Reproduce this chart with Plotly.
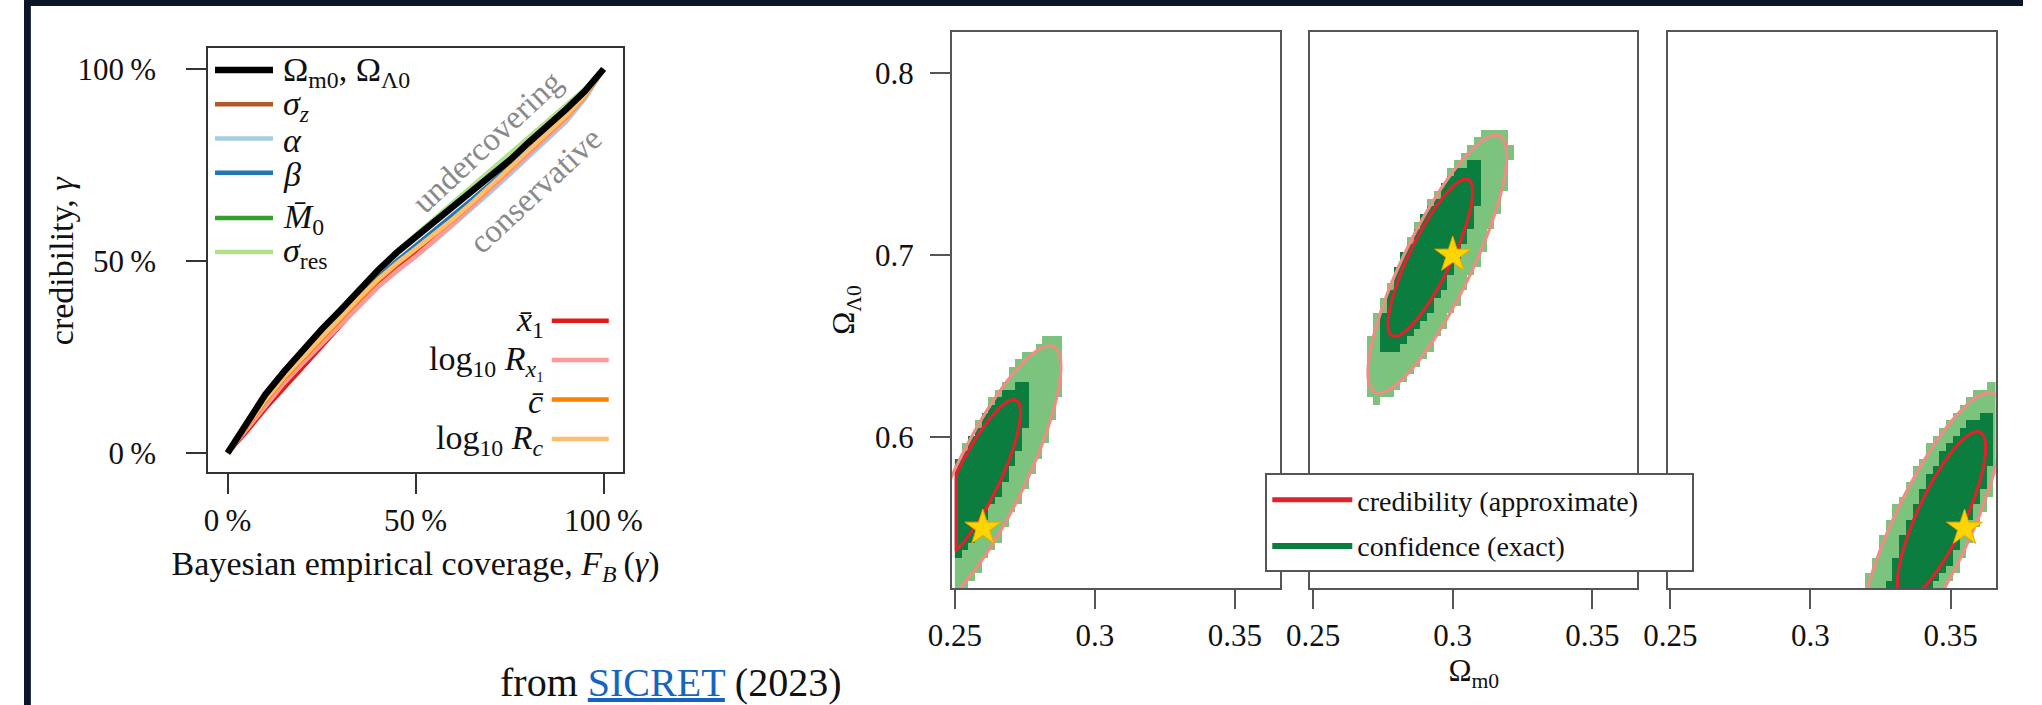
import numpy as np
import plotly.graph_objects as go

W, H = 2042, 705
FONT = "Liberation Serif"


def fx(p):
    return p / W


def fy(p):
    return 1 - p / H


# ---------------- left panel: coverage curves ----------------
coverage = [0.0, 0.05, 0.10, 0.15, 0.20, 0.25, 0.30, 0.35, 0.40, 0.45, 0.50,
            0.55, 0.60, 0.65, 0.70, 0.75, 0.80, 0.85, 0.90, 0.95, 1.00]

cred_omega = [0.0, 0.080, 0.152, 0.212, 0.268, 0.322, 0.372, 0.425, 0.476, 0.522, 0.562,
              0.600, 0.640, 0.680, 0.720, 0.762, 0.808, 0.850, 0.895, 0.942, 1.0]
cred_sigma_z = [0.0, 0.070, 0.135, 0.196, 0.248, 0.298, 0.348, 0.398, 0.447, 0.490, 0.528,
                0.568, 0.610, 0.654, 0.698, 0.744, 0.788, 0.833, 0.878, 0.934, 1.0]
cred_alpha = [0.0, 0.064, 0.128, 0.186, 0.236, 0.286, 0.336, 0.386, 0.434, 0.474, 0.512,
              0.552, 0.594, 0.636, 0.680, 0.725, 0.770, 0.815, 0.862, 0.922, 1.0]
cred_beta = [0.0, 0.072, 0.140, 0.200, 0.252, 0.305, 0.355, 0.408, 0.458, 0.500, 0.540,
             0.578, 0.618, 0.660, 0.702, 0.746, 0.790, 0.836, 0.880, 0.935, 1.0]
cred_M0 = [0.0, 0.066, 0.128, 0.186, 0.236, 0.284, 0.334, 0.386, 0.436, 0.480, 0.520,
           0.560, 0.600, 0.644, 0.690, 0.736, 0.782, 0.828, 0.874, 0.930, 1.0]
cred_sigma_res = [0.0, 0.076, 0.146, 0.206, 0.262, 0.316, 0.368, 0.422, 0.476, 0.524, 0.568,
                  0.610, 0.652, 0.694, 0.736, 0.778, 0.822, 0.865, 0.905, 0.948, 1.0]
cred_x1 = [0.0, 0.055, 0.115, 0.170, 0.224, 0.278, 0.332, 0.386, 0.438, 0.480, 0.518,
           0.558, 0.600, 0.644, 0.690, 0.736, 0.782, 0.830, 0.876, 0.932, 1.0]
cred_logRx1 = [0.0, 0.062, 0.124, 0.182, 0.234, 0.284, 0.334, 0.384, 0.432, 0.474, 0.512,
               0.554, 0.598, 0.642, 0.686, 0.732, 0.778, 0.824, 0.870, 0.928, 1.0]
cred_c = [0.0, 0.068, 0.134, 0.194, 0.246, 0.298, 0.350, 0.400, 0.450, 0.492, 0.530,
          0.568, 0.608, 0.650, 0.694, 0.740, 0.786, 0.830, 0.876, 0.930, 1.0]
cred_logRc = [0.0, 0.070, 0.138, 0.198, 0.250, 0.302, 0.354, 0.404, 0.452, 0.494, 0.532,
              0.570, 0.610, 0.652, 0.696, 0.742, 0.788, 0.832, 0.878, 0.932, 1.0]

pct_ticks = [0.0, 0.5, 1.0]
pct_labels = ["0\u2009%", "50\u2009%", "100\u2009%"]

# ---------------- right panels: Omega_m0 / Omega_L0 regions ----------------
om_ticks = [0.25, 0.3, 0.35]
om_labels = ["0.25", "0.3", "0.35"]
ol_ticks = [0.6, 0.7, 0.8]
ol_labels = ["0.6", "0.7", "0.8"]

truth_om = [0.26, 0.30, 0.355]
truth_ol = [0.55, 0.70, 0.55]
inner_om = [0.258, 0.292, 0.3468]      # centre of 68 % regions
inner_ol = [0.5765, 0.6985, 0.557]
outer_om = [0.2625, 0.2945, 0.343]     # centre of 95 % regions
outer_ol = [0.578, 0.695, 0.549]
sig_om = [0.0102, 0.0100, 0.0104]
sig_ol = [0.0290, 0.0285, 0.0303]
rho = [0.84, 0.84, 0.81]
cred_levels = [2.30, 6.18]            # delta chi^2 of 68 % / 95 %
conf_levels = [3.4, 7.0]
prior_om_min = 0.25
cell_om, cell_ol = 0.0024, 0.0042

DARK = "#0b7d3e"
LIGHT = "#7cc47e"
RED = "#e0222c"
PINK = "#ef8c84"

colors = {
    "omega": "#000000", "sz": "#b15928", "alpha": "#a6cee3", "beta": "#1f78b4",
    "M0": "#33a02c", "sres": "#b2df8a", "x1": "#e31a1c", "lRx1": "#fb9a99",
    "c": "#ff7f00", "lRc": "#fdbf6f",
}

fig = go.Figure()

# (key, values, label, legend rank, legend group)
series1 = [
    ("sz", cred_sigma_z, "<i>σ<sub>z</sub></i>", 2, "g1"),
    ("alpha", cred_alpha, "<i>α</i>", 3, "g1"),
    ("beta", cred_beta, "<i>β</i>", 4, "g1"),
    ("M0", cred_M0, "<i>M̄</i><sub>0</sub>", 5, "g2"),
    ("sres", cred_sigma_res, "<i>σ</i><sub>res</sub>", 6, "g2"),
]
series2 = [
    ("x1", cred_x1, "<i>x̄</i><sub>1</sub>", 7),
    ("lRx1", cred_logRx1, "log<sub>10</sub> <i>R</i><sub><i>x</i>₁</sub>", 8),
    ("c", cred_c, "<i>c̄</i>", 9),
    ("lRc", cred_logRc, "log<sub>10</sub> <i>R<sub>c</sub></i>", 10),
]
for key, vals, name, rank, grp in series1:
    fig.add_trace(go.Scatter(x=coverage, y=vals, mode="lines", name="\u00a0",
                             line=dict(color=colors[key], width=4.5), legendgroup=grp,
                             legend="legend", legendrank=rank, hoverinfo="skip"))
for key, vals, name, rank in series2:
    fig.add_trace(go.Scatter(x=coverage, y=vals, mode="lines", name="\u00a0",
                             line=dict(color=colors[key], width=4.5),
                             legend="legend2", legendrank=rank, hoverinfo="skip"))
fig.add_trace(go.Scatter(x=coverage, y=cred_omega, mode="lines", name="\u00a0",
                         line=dict(color=colors["omega"], width=6.5), legendgroup="g1",
                         legend="legend", legendrank=1, hoverinfo="skip"))
legend1_labels = ["Ω<sub>m0</sub>, Ω<sub>Λ0</sub>"] + [s[2] for s in series1]
legend2_labels = [s[2] for s in series2]

# ---------------- right panels ----------------
def chi2(xg, yg, cx, cy, sx, sy, r):
    dx = (xg - cx) / sx
    dy = (yg - cy) / sy
    return (dx * dx - 2 * r * dx * dy + dy * dy) / (1 - r * r)


xf = np.linspace(0.240, 0.372, 265)
yf = np.linspace(0.500, 0.830, 331)
XF, YF = np.meshgrid(xf, yf)
xe = np.arange(prior_om_min, 0.372, cell_om)
ye = np.arange(0.500, 0.830, cell_ol)
xc = xe + cell_om / 2
yc = ye + cell_ol / 2
XC, YC = np.meshgrid(xc, yc)

for i in range(3):
    xa = "x" + str(i + 2)
    ya = "y" + str(i + 2)
    c_in = chi2(XC, YC, inner_om[i], inner_ol[i], sig_om[i], sig_ol[i], rho[i])
    c_out = chi2(XC, YC, outer_om[i], outer_ol[i], sig_om[i], sig_ol[i], rho[i])
    zc = np.where(c_in <= conf_levels[0], 2.0,
                  np.where(c_out <= conf_levels[1], 1.0, np.nan))
    fig.add_trace(go.Heatmap(x=xc, y=yc, z=zc, zmin=1, zmax=2, showscale=False,
                             colorscale=[[0, LIGHT], [0.5, LIGHT], [0.5, DARK], [1, DARK]],
                             hoverinfo="skip", xaxis=xa, yaxis=ya, showlegend=False))
    f_out = chi2(XF, YF, outer_om[i], outer_ol[i], sig_om[i], sig_ol[i], rho[i])
    f_in = chi2(XF, YF, inner_om[i], inner_ol[i], sig_om[i], sig_ol[i], rho[i])
    f_in = np.where(XF < prior_om_min + 0.0004, 99.0, f_in)
    for zz, lev, col in [(f_out, cred_levels[1], PINK), (f_in, cred_levels[0], RED)]:
        fig.add_trace(go.Contour(x=xf, y=yf, z=zz, autocontour=False,
                                 contours=dict(coloring="lines", start=lev, end=lev, size=1,
                                               showlabels=False),
                                 colorscale=[[0, col], [1, col]],
                                 line=dict(width=3.2, smoothing=1),
                                 showscale=False, hoverinfo="skip",
                                 xaxis=xa, yaxis=ya, showlegend=False))
    fig.add_trace(go.Scatter(x=[truth_om[i]], y=[truth_ol[i]], mode="markers",
                             marker=dict(symbol="star", size=27, color="#ffd500",
                                         line=dict(color="#f0a800", width=1)),
                             xaxis=xa, yaxis=ya, showlegend=False, hoverinfo="skip"))

fig.add_trace(go.Scatter(x=[None], y=[None], mode="lines",
                         name="credibility (approximate)" + "\u00a0" * 7,
                         line=dict(color=RED, width=5), legend="legend3",
                         legendgroup="a", xaxis="x2", yaxis="y2"))
fig.add_trace(go.Scatter(x=[None], y=[None], mode="lines", name="confidence (exact)",
                         fill="toself", fillcolor=DARK, line=dict(color=DARK, width=0),
                         legend="legend3", legendgroup="b", xaxis="x2", yaxis="y2"))

# ---------------- axes ----------------
tick_font = dict(family=FONT, size=31, color="#111")
fig.update_layout(
    xaxis=dict(domain=[fx(188), fx(612)], range=[-0.052, 1.052], tickvals=pct_ticks,
               ticktext=pct_labels, ticks="outside", ticklen=20, tickwidth=1.5,
               tickcolor="#333", showline=True, mirror=True, linecolor="#333", linewidth=1.5,
               showgrid=False, zeroline=False, tickfont=tick_font, ticklabelstandoff=0,
               title=dict(text="Bayesian empirical coverage, <i>F<sub>B</sub></i>\u2009(<i>γ</i>)",
                          font=dict(family=FONT, size=34, color="#111"), standoff=14)),
    yaxis=dict(domain=[fy(472), fy(48)], range=[-0.0495, 1.0547], tickvals=pct_ticks,
               ticktext=pct_labels, ticks="outside", ticklen=20, tickwidth=1.5,
               tickcolor="#333", showline=True, mirror=True, linecolor="#333", linewidth=1.5,
               showgrid=False, zeroline=False, tickfont=tick_font, ticklabelstandoff=24),
)
for i, (a, b) in enumerate([(948, 1283), (1314, 1648), (1679, 2014)]):
    n = str(i + 2)
    xdict = dict(
        domain=[fx(a), fx(b)], range=[0.249, 0.3661], anchor="y" + n,
        tickvals=om_ticks, ticktext=om_labels, ticks="outside", ticklen=19, tickwidth=2,
        tickcolor="#555", showline=True, mirror=True, linecolor="#555", linewidth=2,
        showgrid=False, zeroline=False, tickfont=tick_font, ticklabelstandoff=0)
    if i == 1:
        xdict["title"] = dict(text="Ω<sub>m0</sub>",
                              font=dict(family=FONT, size=31, color="#111"), standoff=6)
    ydict = dict(
        domain=[fy(588), fy(32)], range=[0.51703, 0.82253], anchor="x" + n,
        tickvals=ol_ticks, ticktext=ol_labels, ticks="outside" if i == 0 else "",
        showticklabels=(i == 0), ticklen=20, tickwidth=2, tickcolor="#555",
        showline=True, mirror=True, linecolor="#555", linewidth=2,
        showgrid=False, zeroline=False, tickfont=tick_font, ticklabelstandoff=10)
    if i == 0:
        ydict["title"] = dict(text="Ω<sub>Λ0</sub>",
                              font=dict(family=FONT, size=31, color="#111"), standoff=11)
    fig.layout["xaxis" + n] = xdict
    fig.layout["yaxis" + n] = ydict

# ---------------- legends ----------------
fig.update_layout(
    legend=dict(x=fx(190), y=fy(48), xanchor="left", yanchor="top",
                bgcolor="rgba(0,0,0,0)", borderwidth=0, itemwidth=58,
                font=dict(family=FONT, size=24, color="#111"), tracegroupgap=11),
    legend2=dict(x=fx(534), y=fy(296), xanchor="left", yanchor="top",
                 bgcolor="rgba(0,0,0,0)", borderwidth=0, itemwidth=57,
                 font=dict(family=FONT, size=28, color="#111"), tracegroupgap=0),
    legend3=dict(x=fx(1268), y=fy(473), xanchor="left", yanchor="top",
                 bgcolor="white", bordercolor="#555", borderwidth=2, itemwidth=80,
                 font=dict(family=FONT, size=28, color="#111"), tracegroupgap=6),
)

annotations = []
for lab, row in zip(legend1_labels, [72, 106, 140, 174, 219, 253]):
    annotations.append(dict(text=lab, x=fx(263), y=fy(row), xref="paper", yref="paper",
                            xanchor="left", yanchor="middle", showarrow=False,
                            font=dict(family=FONT, size=34, color="#111")))
for lab, row in zip(legend2_labels, [322, 361, 401, 440]):
    annotations.append(dict(text=lab, x=fx(533), y=fy(row), xref="paper", yref="paper",
                            xanchor="right", yanchor="middle", showarrow=False,
                            font=dict(family=FONT, size=34, color="#111")))
annotations += [
    dict(text="credibility, <i>γ</i>", x=fx(38), y=fy(260), xref="paper", yref="paper",
         textangle=-90, showarrow=False, xanchor="center", yanchor="middle",
         font=dict(family=FONT, size=34, color="#111")),
    dict(text="undercovering", x=0.69, y=0.81, xref="x", yref="y", showarrow=False,
         textangle=-43, font=dict(family=FONT, size=33, color="#8a8a8a")),
    dict(text="conservative", x=0.82, y=0.685, xref="x", yref="y", showarrow=False,
         textangle=-43, font=dict(family=FONT, size=33, color="#8a8a8a")),
    dict(text="from <span style='color:#1565c0;text-decoration:underline'>SICRET</span> (2023)",
         x=fx(660), y=fy(682), xref="paper", yref="paper", showarrow=False,
         xanchor="center", yanchor="middle",
         font=dict(family=FONT, size=40, color="#111")),
]

fig.update_layout(
    width=W, height=H, margin=dict(l=0, r=0, t=0, b=0),
    paper_bgcolor="white", plot_bgcolor="white",
    annotations=annotations, showlegend=True,
    shapes=[
        dict(type="rect", xref="paper", yref="paper", x0=0, x1=fx(7), y0=0, y1=1,
             fillcolor="#0b1628", line=dict(width=0), layer="above"),
        dict(type="rect", xref="paper", yref="paper", x0=0, x1=1, y0=fy(6), y1=1,
             fillcolor="#0b1628", line=dict(width=0), layer="above"),
    ],
)

fig.write_html("out.html", config={"displayModeBar": False},
               post_script="document.body.style.margin='0px';"
                           "document.body.style.overflow='hidden';")
